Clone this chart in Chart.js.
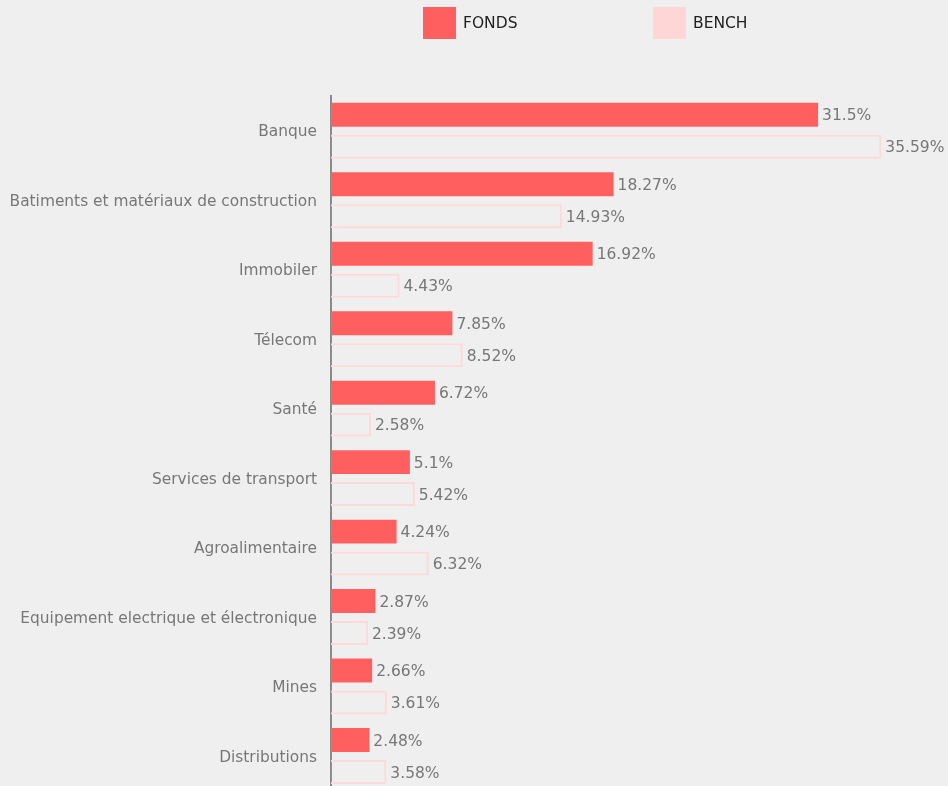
<!DOCTYPE html>
<html>
<head>
<meta charset="utf-8">
<script src="https://cdn.jsdelivr.net/npm/chart.js@4"></script>
<style>
  html, body { margin: 0; padding: 0; overflow: hidden; background: #f0efef; }
  #wrap { position: relative; width: 948px; height: 786px; overflow: hidden; }
  #legend { position: absolute; top: 7px; left: 0; width: 948px; height: 32px; font-family: "DejaVu Sans", Verdana, sans-serif; font-size: 15.5px; color: #222; }
  .item { position: absolute; top: 0; height: 32px; line-height: 32px; }
  .box { position: absolute; left: 0; top: 0; width: 33px; height: 32px; }
  .txt { position: absolute; left: 40px; top: 0; white-space: nowrap; }
  #chart4 { position: absolute; left: 0; top: 0; }
</style>
</head>
<body>
<div id="wrap">
  <canvas id="chart4" width="948" height="814"></canvas>
  <div id="legend"></div>
</div>
<script>
const secteurs = [
  "Banque",
  "Batiments et matériaux de construction",
  "Immobiler",
  "Télecom",
  "Santé",
  "Services de transport",
  "Agroalimentaire",
  "Equipement electrique et électronique",
  "Mines",
  "Distributions"
];

const fonds = [31.5, 18.27, 16.92, 7.85, 6.72, 5.1, 4.24, 2.87, 2.66, 2.48];

const bench = [35.59, 14.93, 4.43, 8.52, 2.58, 5.42, 6.32, 2.39, 3.61, 3.58];

// value labels at the end of each bar (no datalabels plugin offline)
const barLabels = {
  id: "barLabels",
  afterDatasetsDraw(chart) {
    const ctx = chart.ctx;
    ctx.save();
    ctx.font = '15.5px "DejaVu Sans", Verdana, sans-serif';
    ctx.fillStyle = "#777";
    ctx.textBaseline = "middle";
    ctx.textAlign = "left";
    chart.data.datasets.forEach((ds, i) => {
      chart.getDatasetMeta(i).data.forEach((bar, j) => {
        ctx.fillText(ds.data[j] + "%", bar.x + 4, bar.y + 1.5);
      });
    });
    ctx.restore();
  }
};

const ctx = document.getElementById("chart4").getContext("2d");

const myChart = new Chart(ctx, {
  type: "bar",
  data: {
    labels: secteurs,
    datasets: [
      {
        label: "FONDS",
        data: fonds,
        backgroundColor: "#ff5f5f",
        borderWidth: 0,
        legendColor: "#ff5f5f"
      },
      {
        label: "BENCH",
        data: bench,
        backgroundColor: "rgba(255, 255, 255, 0.05)",
        borderColor: "#ffd9d9",
        borderWidth: 2,
        legendColor: "#ffd6d6"
      }
    ]
  },
  options: {
    indexAxis: "y",
    responsive: false,
    animation: false,
    categoryPercentage: 0.92,
    barPercentage: 0.75,
    layout: { padding: { top: 96, bottom: 0, left: 0, right: 0 } },
    plugins: {
      legend: { display: false },
      tooltip: { enabled: false }
    },
    scales: {
      x: {
        display: false,
        min: 0,
        max: 39.9
      },
      y: {
        afterFit(scale) { scale.width = 331; },
        grid: { display: false, drawTicks: false },
        border: { display: true, color: "#8a8a8a", width: 2 },
        ticks: {
          padding: 14,
          labelOffset: 1.5,
          color: "#777",
          font: { family: '"DejaVu Sans", Verdana, sans-serif', size: 15.4 }
        }
      }
    }
  },
  plugins: [barLabels]
});

// legend, as in the page: two wide-spaced items
const legendPos = [423, 653];
const legend = document.getElementById("legend");
myChart.data.datasets.forEach((ds, i) => {
  const item = document.createElement("div");
  item.className = "item";
  item.style.left = legendPos[i] + "px";
  item.innerHTML = '<span class="box" style="background:' + ds.legendColor + '"></span><span class="txt">' + ds.label + "</span>";
  legend.appendChild(item);
});
</script>
</body>
</html>
